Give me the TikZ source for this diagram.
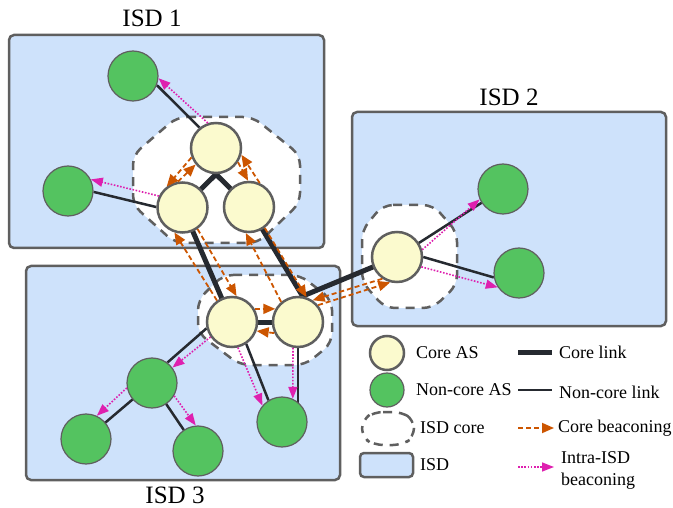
\documentclass[tikz,border=0pt]{standalone}
\usepackage{fontspec}
\setmainfont{Liberation Serif}
\usetikzlibrary{arrows.meta}
\definecolor{isdfill}{RGB}{206,226,251}
\definecolor{bordergray}{RGB}{95,95,95}
\definecolor{coreyellow}{RGB}{251,250,206}
\definecolor{noncoregreen}{RGB}{84,195,96}
\definecolor{linkdark}{RGB}{38,42,48}
\definecolor{beaconorange}{RGB}{204,85,0}
\definecolor{beaconmagenta}{RGB}{222,32,175}
\pgfdeclarelayer{bg}
\pgfdeclarelayer{links}
\pgfsetlayers{bg,links,main}
\tikzset{
  isdbox/.style={draw=bordergray, fill=isdfill, line width=2.5pt, rounded corners=5pt},
  coreregion/.style={draw=bordergray, fill=white, line width=2.5pt, dash pattern=on 9pt off 7pt, rounded corners=10pt},
  coreas/.style={circle, draw=bordergray, fill=coreyellow, line width=2.5pt, minimum size=50pt, inner sep=0pt},
  noncoreas/.style={circle, draw=bordergray, fill=noncoregreen, line width=1.2pt, minimum size=50pt, inner sep=0pt},
  corelink/.style={draw=linkdark, line width=5pt},
  noncorelink/.style={draw=linkdark, line width=2.5pt},
  corebeacon/.style={draw=beaconorange, line width=1.8pt, dash pattern=on 5pt off 3pt, -{Triangle[length=12pt,width=10pt]}},
  intrabeacon/.style={draw=beaconmagenta, line width=1.6pt, dash pattern=on 1.6pt off 1.6pt, -{Triangle[length=12pt,width=9pt]}},
  isdlabel/.style={font=\fontsize{25}{30}\selectfont, inner sep=0pt},
  legendtext/.style={font=\fontsize{18}{22}\selectfont, anchor=west, inner sep=0pt, align=left}
}
\begin{document}
\begin{tikzpicture}[x=1pt,y=-1pt]
\useasboundingbox (0,0) rectangle (673,508);

% ISD boxes and core regions
\begin{pgfonlayer}{bg}
  \draw[isdbox] (9,35) rectangle (324,248);
  \draw[isdbox] (352,112) rectangle (666,326);
  \draw[isdbox] (26,266) rectangle (340,480);
  \draw[coreregion] (177,117) -- (253,117) -- (300,155) -- (300,203) -- (258,243) -- (175,243) -- (133,205) -- (133,155) -- cycle;
  \draw[coreregion] (223,275) -- (300,275) -- (332,300) -- (332,343) -- (305,365) -- (240,365) -- (198,333) -- (198,300) -- cycle;
  \draw[coreregion] (383,205) -- (433,205) -- (457,232) -- (457,285) -- (433,308) -- (385,308) -- (362,282) -- (362,230) -- cycle;
  \draw[coreregion, rounded corners=9pt] (374,412) -- (402,412) -- (414,420) -- (414,437) -- (402,445) -- (374,445) -- (362,437) -- (362,420) -- cycle;
  \draw[isdbox, rounded corners=4pt] (360,453) rectangle (413,477);
\end{pgfonlayer}

% labels
\node[isdlabel] (isd1) at (152,18) {ISD 1};
\node[isdlabel] (isd2) at (509,97) {ISD 2};
\node[isdlabel] (isd3) at (175,495.5) {ISD 3};

% core ASes
\node[coreas] (A) at (216,148) {};
\node[coreas] (B) at (182.5,207.5) {};
\node[coreas] (C) at (249,207) {};
\node[coreas] (D) at (232,322) {};
\node[coreas] (E) at (298,322) {};
\node[coreas] (F) at (397,257) {};
% non-core ASes
\node[noncoreas] (g1) at (133,76) {};
\node[noncoreas] (g2) at (68,191) {};
\node[noncoreas] (g3) at (503,189) {};
\node[noncoreas] (g4) at (519,273) {};
\node[noncoreas] (g5) at (152,383) {};
\node[noncoreas] (g6) at (86,439) {};
\node[noncoreas] (g7) at (198,451) {};
\node[noncoreas] (g8) at (282,422) {};

% links
\begin{pgfonlayer}{links}
  \draw[corelink] (A.south) -- (B.center);
  \draw[corelink] (A.south) -- (C.center);
  \draw[corelink] (B.center) -- (D.center);
  \draw[corelink] (C.center) -- (E.80);
  \draw[corelink] (E.80) -- (F.center);
  \draw[corelink] (D.center) -- (E.center);
  \draw[noncorelink] (A.129) -- (g1.339);
  \draw[noncorelink] (g2.358) -- (B.179);
  \draw[noncorelink] (F.center) -- (g3.center);
  \draw[noncorelink] (F.0) -- (g4.190);
  \draw[noncorelink] (g5.53) -- (D.194);
  \draw[noncorelink] (g5.center) -- (g6.center);
  \draw[noncorelink] (g5.center) -- (g7.center);
  \draw[noncorelink] (D.303) -- (g8.122);
  \draw[noncorelink] (E.center) -- (E.center |- g8.center);
\end{pgfonlayer}

% core beaconing
\draw[corebeacon] (A.201) -- (B.127);
\draw[corebeacon] (B.100) -- (A.219);
\draw[corebeacon] (A.327) -- (C.92);
\draw[corebeacon] (C.66) -- (A.345);
\draw[corebeacon] (B.305) -- (D.80);
\draw[corebeacon] (D.125) -- (B.252);
\draw[corebeacon] (C.307) -- (E.71);
\draw[corebeacon] (E.130) -- (C.263);
\draw[corebeacon] (D.30) -- (E.150);
\draw[corebeacon] (E.205) -- (D.340);
\draw[corebeacon] (F.236) -- (E.56);
\draw[corebeacon] (E.40) -- (F.255);

% intra-ISD beaconing
\draw[intrabeacon] (A.108) -- (g1.355);
\draw[intrabeacon] (B.154) -- (g2.27);
\draw[intrabeacon] (F.16) -- (g3.204);
\draw[intrabeacon] (F.338) -- (g4.214);
\draw[intrabeacon] (D.215) -- (g5.37);
\draw[intrabeacon] (g5.191) -- (g6.65);
\draw[intrabeacon] (g5.330) -- (g7.95);
\draw[intrabeacon] (D.283) -- (g8.140);
\draw[intrabeacon] (E.259) -- (g8.65);

% legend
\node[coreas, minimum size=34pt] (lcore) at (387,353) {};
\node[noncoreas, minimum size=34pt] (lnon) at (387,390) {};
\node[legendtext] (tcore) at (416,353) {Core AS};
\node[legendtext] (tnon) at (416,390) {Non-core AS};
\node[legendtext] (tisdcore) at (420,428) {ISD core};
\node[legendtext] (tisd) at (420,465) {ISD};
\coordinate (lcla) at (518,352);
\coordinate (lclb) at (552,352);
\coordinate (lnla) at (518,390);
\coordinate (lnlb) at (552,390);
\coordinate (lcba) at (518,428);
\coordinate (lcbb) at (554,428);
\coordinate (liba) at (518,467);
\coordinate (libb) at (554,467);
\draw[corelink] (lcla) -- (lclb);
\draw[noncorelink] (lnla) -- (lnlb);
\draw[corebeacon] (lcba) -- (lcbb);
\draw[intrabeacon] (liba) -- (libb);
\node[legendtext] (tcl) at (559,352) {Core link};
\node[legendtext] (tnl) at (559,392) {Non-core link};
\node[legendtext] (tcb) at (558,428) {Core beaconing};
\node[legendtext] (tib) at (561,470) {Intra-ISD\\beaconing};
\end{tikzpicture}
\end{document}
